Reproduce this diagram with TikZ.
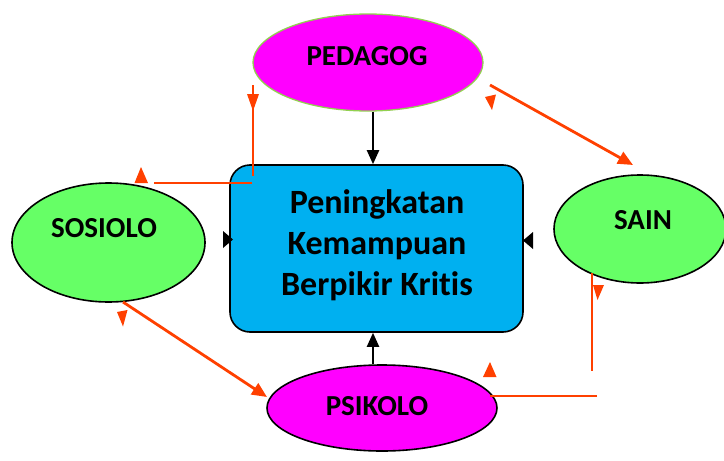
\documentclass[tikz,border=0pt]{standalone}
\usepackage{fontspec}
\setmainfont[Ligatures=NoCommon]{Carlito}
\usetikzlibrary{shapes.geometric,arrows.meta}
\definecolor{redl}{RGB}{255,64,0}
\definecolor{boxblue}{RGB}{0,176,240}
\definecolor{ellgreen}{RGB}{102,255,102}
\definecolor{ellmag}{RGB}{255,0,255}
\definecolor{pedline}{RGB}{146,208,80}
\begin{document}
\begin{tikzpicture}[x=1pt,y=-1pt,
  ell/.style={ellipse, draw=black, line width=1.6pt, inner sep=0pt},
  lbl/.style={font=\bfseries\fontsize{29}{30}\selectfont, inner sep=0pt},
  redline/.style={draw=redl, line width=2.8pt},
  redarrow/.style={draw=redl, line width=2.8pt, -{Triangle[length=15pt,width=13pt]}},
  blk/.style={draw=black, line width=2.2pt, -{Triangle[length=14pt,width=12pt]}}]
\useasboundingbox (0,0) rectangle (724,461);

% nodes
\node[draw=black, line width=1.6pt, rounded corners=20pt, fill=boxblue,
      minimum width=293pt, minimum height=167pt] (box) at (376.5,248.5) {};
\node[align=center, font=\bfseries\fontsize{34}{41}\selectfont, inner sep=0pt]
      (boxtxt) at (377,245) {Peningkatan\\Kemampuan\\Berpikir Kritis};

\node[ell, draw=pedline, line width=1.3pt, fill=ellmag, minimum width=230pt, minimum height=97pt] (ped) at (368,62.5) {};
\node[lbl] (pedtxt) at (367,56) {PEDAGOG};

\node[ell, fill=ellmag, minimum width=230pt, minimum height=86pt] (psi) at (382,408) {};
\node[lbl] (psitxt) at (377,406.5) {PSIKOLO};

\node[ell, fill=ellgreen, minimum width=193pt, minimum height=119pt] (sos) at (108.5,242.5) {};
\node[lbl] (sostxt) at (104,228) {SOSIOLO};

\node[ell, fill=ellgreen, minimum width=172pt, minimum height=108pt] (sain) at (640,229) {};
\node[lbl] (saintxt) at (643,220) {SAIN};

% black connectors
\coordinate (arrx) at (373,0);
\draw[blk] (ped.south -| arrx) -- (box.north -| arrx);
\draw[blk] (psi.north -| arrx) -- (box.south -| arrx);
\fill[black] (223,231) -- (233,239.5) -- (223,248) -- cycle;
\fill[black] (533,232) -- (523,240.5) -- (533,249) -- cycle;

% red connectors
\coordinate (tl1) at (253,85);
\coordinate (tl2) at (253,176);
\coordinate (tl3) at (252,183);
\coordinate (tl4) at (154,183);
\draw[redline] (tl1) -- (tl2);
\draw[redline] (tl3) -- (tl4);
\fill[redl] (247,94) -- (259,94) -- (253,111) -- cycle;
\fill[redl] (141,167) -- (148,183) -- (134.5,183) -- cycle;

\coordinate (tr1) at (490,85);
\coordinate (tr2) at (633,165);
\draw[redarrow] (tr1) -- (tr2);
\fill[redl] (485,97) -- (496,94.5) -- (492,110) -- cycle;

\coordinate (bl1) at (123,302);
\coordinate (bl2) at (267,397);
\draw[redarrow] (bl1) -- (bl2);
\fill[redl] (117,312) -- (127.5,310) -- (123,326.5) -- cycle;

\coordinate (br1) at (592,273);
\coordinate (br2) at (592,371);
\coordinate (br3) at (597,396);
\coordinate (br4) at (490,396);
\draw[redline] (br1) -- (br2);
\draw[redline] (br3) -- (br4);
\fill[redl] (593,285) -- (604,285) -- (597.5,300) -- cycle;
\fill[redl] (490,362) -- (496.5,377) -- (483,377) -- cycle;
\end{tikzpicture}
\end{document}
